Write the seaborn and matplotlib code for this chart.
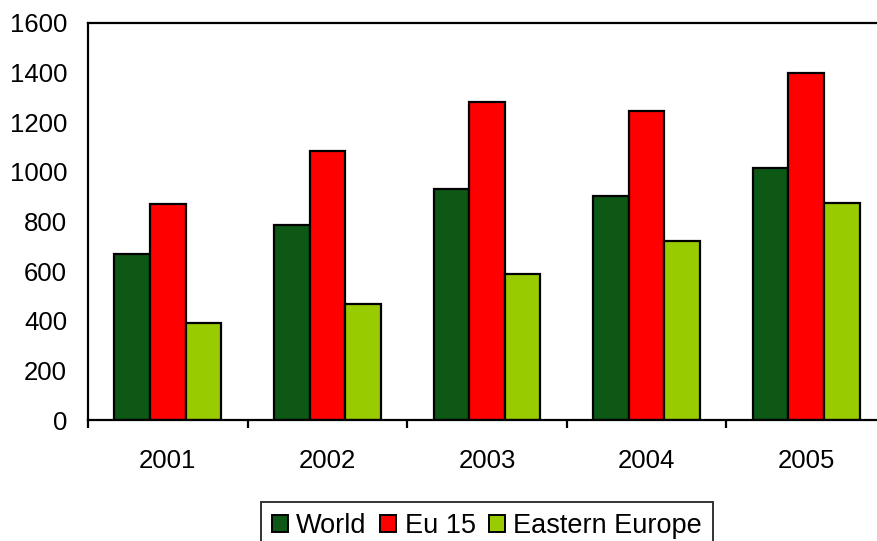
import matplotlib
matplotlib.use("Agg")
import matplotlib.pyplot as plt
from matplotlib.patches import Patch
import seaborn as sns
import pandas as pd

years = ["2001", "2002", "2003", "2004", "2005"]
series = ["World", "Eu 15", "Eastern Europe"]
world = [668, 785, 930, 902, 1017]
eu15 = [871, 1085, 1282, 1246, 1398]
eastern_europe = [390, 468, 590, 722, 876]
colors = ["#0D5814", "#FF0000", "#99CC00"]
y_ticks = [0, 200, 400, 600, 800, 1000, 1200, 1400, 1600]

sns.set_theme(style="white")
plt.rcParams["font.family"] = ["Liberation Sans", "DejaVu Sans"]
plt.rcParams["text.color"] = "black"

df = pd.DataFrame({
    "year": years * 3,
    "value": world + eu15 + eastern_europe,
    "series": [s for s in series for _ in years],
})

fig = plt.figure(figsize=(8.77, 5.41), dpi=100)
W, H = 877, 541
left, right, top, bottom = 88, 886, 23, 420
ax = fig.add_axes([left / W, 1 - bottom / H, (right - left) / W, (bottom - top) / H])

sns.barplot(data=df, x="year", y="value", hue="series", hue_order=series,
            palette=colors, width=0.67, saturation=1, edgecolor="black",
            linewidth=1.6, ax=ax, legend=False)

ax.set_xlim(-0.5, len(years) - 0.5)
ax.set_ylim(0, 1600)
ax.set_yticks(y_ticks)
ax.set_yticklabels([str(v) for v in y_ticks])
ax.set_xlabel("")
ax.set_ylabel("")

# category boundaries carry the tick marks, labels sit at the centres
ax.set_xticks([i - 0.5 for i in range(len(years) + 1)])
ax.set_xticklabels([])
ax.set_xticks(range(len(years)), minor=True)
ax.set_xticklabels(years, minor=True)
ax.tick_params(axis="x", which="major", direction="out", length=6, width=1.6,
               color="black", bottom=True)
ax.tick_params(axis="x", which="minor", length=0, pad=21, labelsize=18.5,
               labelcolor="black")
ax.tick_params(axis="y", length=0, pad=15, labelsize=18.5, labelcolor="black")

for side in ["left", "bottom", "top"]:
    ax.spines[side].set_visible(True)
    ax.spines[side].set_color("black")
    ax.spines[side].set_linewidth(1.6)
ax.spines["right"].set_visible(False)

handles = [Patch(facecolor=c, edgecolor="black", linewidth=1.4) for c in colors]
leg = fig.legend(handles, series, loc="upper center",
                 bbox_to_anchor=(487 / W, 1 - 502 / H), ncol=3, frameon=True,
                 fancybox=False, fontsize=19.5, labelcolor="black",
                 handlelength=0.6, handleheight=0.6, handletextpad=0.3,
                 columnspacing=0.5, borderpad=0.4, borderaxespad=0)
leg.get_frame().set_edgecolor("black")
leg.get_frame().set_linewidth(1.4)

fig.savefig("out.png", dpi=100, facecolor="white")
